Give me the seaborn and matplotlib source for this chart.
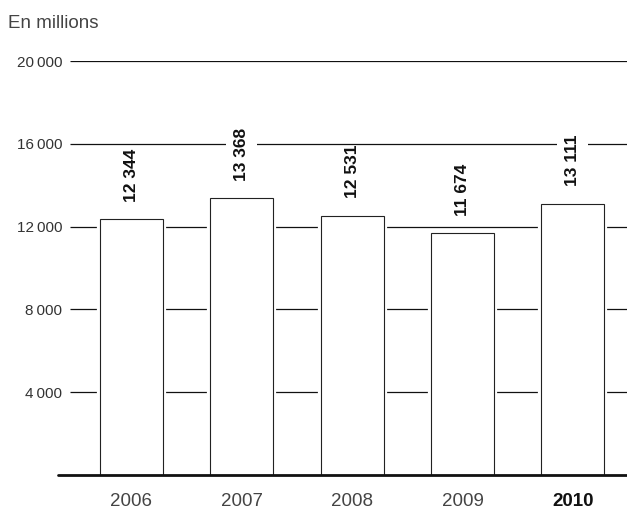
import matplotlib
matplotlib.use("Agg")
import matplotlib.pyplot as plt
import matplotlib.patheffects as pe
from matplotlib.patches import Rectangle
import seaborn as sns
import pandas as pd

# Chart data
years = ["2006", "2007", "2008", "2009", "2010"]
values = [12344, 13368, 12531, 11674, 13111]
value_labels = ["12 344", "13 368", "12 531", "11 674", "13 111"]
y_ticks = [4000, 8000, 12000, 16000, 20000]
y_tick_labels = ["4\u2009000", "8\u2009000", "12\u2009000", "16\u2009000", "20\u2009000"]
unit_label = "En millions"

sns.set_theme(style="white")
plt.rcParams["font.family"] = ["Liberation Sans", "DejaVu Sans"]

fig = plt.figure(figsize=(6.27, 5.11), dpi=100)
ax = fig.add_axes([0.0925, 0.0705, 0.9075, 0.8101])

df = pd.DataFrame({"year": years, "value": values})
sns.barplot(data=df, x="year", y="value", color="white", edgecolor="#222222",
            linewidth=0.8, width=0.57, saturation=1, ax=ax, zorder=3)

# white halo around each bar so the gridlines stop short of it
for p in ax.patches:
    p.set_facecolor("white")
    p.set_path_effects([pe.Stroke(linewidth=4.5, foreground="white"), pe.Normal()])

x_left, x_right = -0.666, 4.49
ax.set_xlim(x_left, x_right)
ax.set_ylim(0, 20000)

# horizontal gridlines, starting a little right of the tick labels
ax.hlines(y_ticks, -0.557, x_right, color="#111111", linewidth=0.9, zorder=1)

# thick baseline
ax.axhline(0, color="#111111", linewidth=2.0, zorder=6, clip_on=False)

# value labels above bars
texts = []
for i, (v, lab) in enumerate(zip(values, value_labels)):
    t = ax.annotate(lab, xy=(i, v), xytext=(0, 12.5), textcoords="offset points",
                    rotation=90, ha="center", va="bottom", fontsize=12.5,
                    fontweight="bold", color="#111111", zorder=5)
    texts.append(t)

ax.set_yticks(y_ticks)
ax.set_yticklabels(y_tick_labels, fontsize=11, color="#333333")
ax.tick_params(axis="y", length=0, pad=-3)
ax.tick_params(axis="x", length=0, pad=13)
ax.set_xticks(range(len(years)))
ax.set_xticklabels(years, fontsize=13.5, color="#444444")
ax.get_xticklabels()[-1].set_fontweight("bold")
ax.get_xticklabels()[-1].set_color("#111111")

for s in ax.spines.values():
    s.set_visible(False)
ax.set_xlabel("")
ax.set_ylabel("")

fig.text(8 / 627, 1 - 28 / 511, unit_label, fontsize=13.5, color="#444444",
         ha="left", va="baseline")

# white knock-out behind each value label, wider than tall, to break gridlines
fig.canvas.draw()
renderer = fig.canvas.get_renderer()
inv = ax.transData.inverted()
for t in texts:
    bb = t.get_window_extent(renderer)
    (x0, y0) = inv.transform((bb.x0 - 8, bb.y0))
    (x1, y1) = inv.transform((bb.x1 + 8, bb.y1 - 1))
    ax.add_patch(Rectangle((x0, y0), x1 - x0, y1 - y0, facecolor="white",
                           edgecolor="none", zorder=2))

fig.savefig("out.png", dpi=100)
